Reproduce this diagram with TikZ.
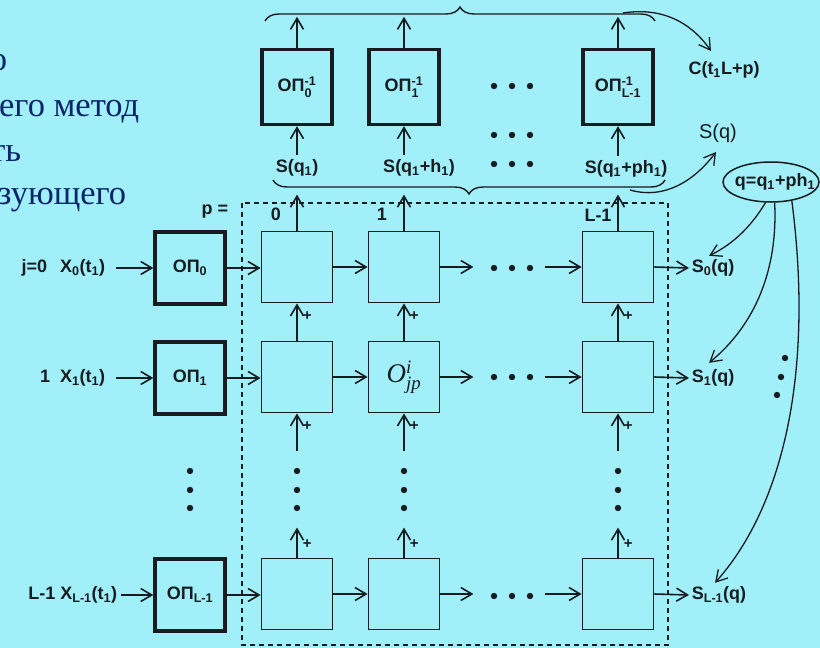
\documentclass[tikz,border=0pt]{standalone}
\usepackage{fontspec}
\usepackage{amsmath}
\setmainfont{Liberation Sans}
\newfontfamily\timesru{Liberation Serif}
\usetikzlibrary{arrows.meta,decorations.pathreplacing,shapes.geometric}
\definecolor{bgcyan}{RGB}{161,239,249}
\definecolor{navy}{RGB}{12,36,104}
\definecolor{ink}{RGB}{22,28,32}
\newcommand{\lowix}[1]{$_{\text{#1}}$}
\newcommand{\lowhigh}[2]{$_{\text{#1}}^{\text{#2}}$}

\begin{document}
\begin{tikzpicture}[x=1pt, y=-1pt, color=ink, line width=1.6pt,
        >={Straight Barb[length=11pt, width=13pt]},
        font=\fontsize{18}{20}\selectfont\bfseries]

        \tikzstyle{cell} = [draw, line width=1.8pt, minimum width=71pt, minimum height=71pt, inner sep=0pt]
        \tikzstyle{opbox} = [cell, line width=3.4pt, minimum width=70pt, minimum height=72pt]
        \tikzstyle{lbl} = [inner sep=0pt]
        \tikzstyle{plusl} = [font=\fontsize{15}{15}\selectfont\bfseries, inner sep=0pt]
        \tikzstyle{ru} = [text=navy, font=\timesru\fontsize{34.5}{34.5}\selectfont, anchor=base east, inner sep=0pt]
        \tikzstyle{bent} = [->, line width=1.3pt]

        \fill[bgcyan] (0,0) rectangle (820,648);
        \useasboundingbox (0,0) rectangle (820,648);
        \clip (0,0) rectangle (820,648);

        % slide text, cut at the left edge
        \node (ru1) [ru] at (8,70) {о};
        \node (ru2) [ru] at (140,116) {его метод};
        \node (ru3) [ru] at (22,161) {ть};
        \node (ru4) [ru] at (127,204) {зующего};

        % input stage
        \node (op0) [opbox] at (190,268) {ОП\lowix{0}};
        \node (op1) [opbox] at (190,378) {ОП\lowix{1}};
        \node (opL) [opbox] at (190,595) {ОП\lowix{L-1}};

        \node (in0) [lbl, anchor=east] at (106,268) {j=0\hspace{13pt}X\lowix{0}(t\lowix{1})};
        \node (in1) [lbl, anchor=east] at (106,378) {1\hspace{10pt}X\lowix{1}(t\lowix{1})};
        \node (inL) [lbl, anchor=east] at (118,595) {L-1 X\lowix{L-1}(t\lowix{1})};

        \draw[->] ([xshift=10pt]in0.east) -- (op0.west);
        \draw[->] ([xshift=10pt]in1.east) -- (op1.west);
        \draw[->] ([xshift=3pt]inL.east) -- (opL.west);

        % grid of cells
        \draw[dashed, dash pattern=on 5pt off 4pt, line width=1.5pt] (242,203) rectangle (668,645);
        \node (plab) at (215,212) {p =};
        \node (k0) at (276,214) {0};
        \node (k1) at (382,214) {1};
        \node (kL) at (598,215) {L-1};

        \node (c00) [cell] at (297,267) {};
        \node (c01) [cell] at (404,267) {};
        \node (c0L) [cell] at (618,267) {};
        \node (c10) [cell] at (297,377) {};
        \node (c11) [cell] at (404,377) {\timesru\itshape\mdseries\fontsize{27}{27}\selectfont O$^{\text{i}}_{\text{jp}}$};
        \node (c1L) [cell] at (618,377) {};
        \node (cL0) [cell] at (297,594) {};
        \node (cL1) [cell] at (404,594) {};
        \node (cLL) [cell] at (618,594) {};

        \node (so0) [lbl, anchor=west] at (691,268) {S\lowix{0}(q)};
        \node (so1) [lbl, anchor=west] at (691,378) {S\lowix{1}(q)};
        \node (soL) [lbl, anchor=west] at (691,595) {S\lowix{L-1}(q)};

        \draw[->] (op0.east) -- (op0.east -| c00.west);
        \draw[->] (c00) -- (c01);
        \draw[->] (c01.east) -- ++(33,0);
        \draw[->] ([xshift=-37pt]c0L.west) -- (c0L.west);
        \draw[->] (c0L.east) -- ([xshift=-2pt]so0.west);

        \draw[->] (op1.east) -- (op1.east -| c10.west);
        \draw[->] (c10) -- (c11);
        \draw[->] (c11.east) -- ++(33,0);
        \draw[->] ([xshift=-37pt]c1L.west) -- (c1L.west);
        \draw[->] (c1L.east) -- ([xshift=-2pt]so1.west);

        \draw[->] (opL.east) -- (opL.east -| cL0.west);
        \draw[->] (cL0) -- (cL1);
        \draw[->] (cL1.east) -- ++(33,0);
        \draw[->] ([xshift=-37pt]cLL.west) -- (cLL.west);
        \draw[->] (cLL.east) -- ([xshift=-2pt]soL.west);

        % upward sums
        \draw[->] (c00.north) -- ++(0,-36);
        \draw[->] (c01.north) -- ++(0,-36);
        \draw[->] (c0L.north) -- ++(0,-36);

        \draw[->] (c10.north) -- (c00.south) node[plusl, at end, right=5pt, yshift=-13pt] {+};
        \draw[->] (c11.north) -- (c01.south) node[plusl, at end, right=5pt, yshift=-13pt] {+};
        \draw[->] (c1L.north) -- (c0L.south) node[plusl, at end, right=5pt, yshift=-13pt] {+};

        \draw[->] ([yshift=-38pt]c10.south) -- (c10.south) node[plusl, at end, right=5pt, yshift=-13pt] {+};
        \draw[->] ([yshift=-38pt]c11.south) -- (c11.south) node[plusl, at end, right=5pt, yshift=-13pt] {+};
        \draw[->] ([yshift=-38pt]c1L.south) -- (c1L.south) node[plusl, at end, right=5pt, yshift=-13pt] {+};

        \draw[->] (cL0.north) -- ++(0,-30) node[plusl, at end, right=5pt, yshift=-16pt] {+};
        \draw[->] (cL1.north) -- ++(0,-30) node[plusl, at end, right=5pt, yshift=-16pt] {+};
        \draw[->] (cLL.north) -- ++(0,-30) node[plusl, at end, right=5pt, yshift=-16pt] {+};

        \foreach \x in {190,297,404,618}
            \foreach \y in {471,490,508}
                \fill (\x,\y) circle (3.2pt);
        \foreach \y in {86,135,164,268,377,596}
            \foreach \x in {494,512,530}
                \fill (\x,\y) circle (3.2pt);
        \fill (785,358) circle (3.2pt);
        \fill (781,377) circle (3.2pt);
        \fill (777,395) circle (3.2pt);

        % inverse stage
        \node (inv0) [opbox, minimum height=75pt] at (297,87) {ОП\lowhigh{0}{-1}};
        \node (inv1) [opbox, minimum height=75pt] at (404,87) {ОП\lowhigh{1}{-1}};
        \node (invL) [opbox, minimum height=75pt] at (618,87) {ОП\lowhigh{L-1}{-1}};

        \node (sq0) at (297,168) {S(q\lowix{1})};
        \node (sq1) at (419,168) {S(q\lowix{1}+h\lowix{1})};
        \node (sqL) at (626,169) {S(q\lowix{1}+ph\lowix{1})};

        \draw[->] (sq0.north) -- (inv0.south);
        \draw[->] (inv1.south |- sq1.north) -- (inv1.south);
        \draw[->] (invL.south |- sqL.north) -- (invL.south);

        \draw[->] (inv0.north) -- ++(0,-31);
        \draw[->] (inv1.north) -- ++(0,-31);
        \draw[->] (invL.north) -- ++(0,-31);

        \draw[line width=1.4pt, decorate, decoration={brace, amplitude=14pt}] (265,21) -- (655,21);
        \draw[line width=1.4pt, decorate, decoration={brace, amplitude=14pt}] (665,180) -- (273,180);

        \node (ct) [font=\fontsize{18}{20}\selectfont\bfseries] at (724,70) {C(t\lowix{1}L+p)};
        \coordinate (cbeg) at (623,13);
        \coordinate (ctip) at (711,51);
        \draw[bent] (cbeg) .. controls (668,6) and (695,28) .. (ctip);

        \node (sq) [font=\fontsize{20}{22}\selectfont\mdseries] at (718,133) {S(q)};
        \coordinate (sbeg) at (630,190);
        \coordinate (stip) at (716,152);
        \draw[bent] (sbeg) .. controls (665,200) and (695,180) .. (stip);

        % split of q to the rows
        \node (qq) [draw, ellipse, line width=1.5pt, minimum width=96pt, minimum height=40pt, inner sep=0pt] at (771,182) {\makebox[0pt]{\hspace{8pt}q=q\lowix{1}+ph\lowix{1}}};
        \draw[bent] (qq.255) .. controls (752,225) and (735,243) .. ([xshift=-4pt, yshift=3pt]so0.north);
        \draw[bent] (qq.280) .. controls (778,270) and (755,325) .. ([xshift=-4pt, yshift=6pt]so1.north);
        \draw[bent] (qq.318) .. controls (815,380) and (780,510) .. ([xshift=-4pt, yshift=3pt]soL.north);

    \end{tikzpicture}
\end{document}
